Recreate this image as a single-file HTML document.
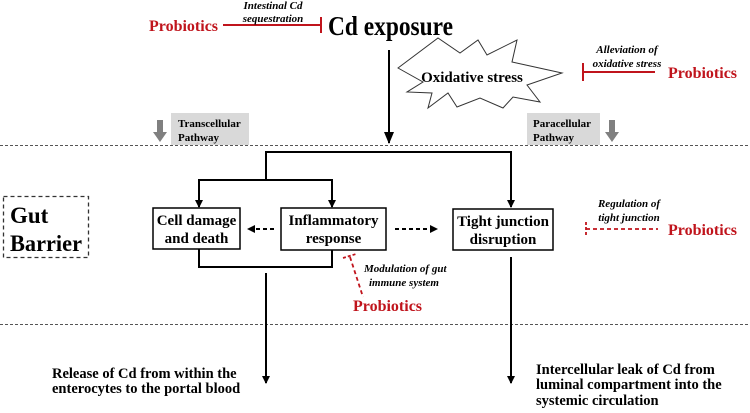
<!DOCTYPE html>
<html><head><meta charset="utf-8"><style>
html,body{margin:0;padding:0;background:#fff;width:750px;height:413px;overflow:hidden}
svg{display:block;font-family:"Liberation Serif",serif}
</style></head><body>
<svg width="750" height="413" viewBox="0 0 750 413" xmlns="http://www.w3.org/2000/svg">
<defs>
<marker id="ah" markerWidth="8" markerHeight="8" refX="7" refY="4" orient="auto" markerUnits="userSpaceOnUse"><path d="M0,0 L8,4 L0,8 Z" fill="#000"/></marker>
<marker id="ahb" markerWidth="12" markerHeight="10" refX="11" refY="5" orient="auto" markerUnits="userSpaceOnUse"><path d="M0,0 L12,5 L0,10 Z" fill="#000"/></marker>
</defs>
<!-- top -->
<text x="149" y="31" font-size="16" font-weight="bold" fill="#c0141c">Probiotics</text>
<line x1="223" y1="25" x2="321" y2="25" stroke="#c0141c" stroke-width="2"/>
<line x1="321" y1="17" x2="321" y2="33" stroke="#c0141c" stroke-width="2"/>
<text x="273" y="9" font-size="11" font-style="italic" font-weight="bold" text-anchor="middle">Intestinal Cd</text>
<text x="273" y="22" font-size="11" font-style="italic" font-weight="bold" text-anchor="middle">sequestration</text>
<text x="328" y="35" font-size="27" font-weight="bold" textLength="125" lengthAdjust="spacingAndGlyphs">Cd exposure</text>
<line x1="389" y1="50" x2="389" y2="143" stroke="#000" stroke-width="2" marker-end="url(#ahb)"/>
<polygon points="398,68 438,38 460,53 478,40 487,55 517,40 512,62 562,73 527,85 540,102 513,97 503,108 480,98 457,107 448,93 428,108 432,93 407,92 423,82" fill="#fff" stroke="#333" stroke-width="1"/>
<text x="472" y="82" font-size="15" font-weight="bold" text-anchor="middle">Oxidative stress</text>
<text x="627" y="53" font-size="11" font-style="italic" font-weight="bold" text-anchor="middle">Alleviation of</text>
<text x="627" y="67" font-size="11" font-style="italic" font-weight="bold" text-anchor="middle">oxidative stress</text>
<line x1="583" y1="72" x2="655" y2="72" stroke="#c0141c" stroke-width="2"/>
<line x1="583" y1="63" x2="583" y2="81" stroke="#c0141c" stroke-width="2"/>
<text x="668" y="78" font-size="16" font-weight="bold" fill="#c0141c">Probiotics</text>
<!-- pathways -->
<rect x="171" y="113" width="78" height="32" fill="#d9d9d9"/>
<text x="178" y="127" font-size="11" font-weight="bold">Transcellular</text>
<text x="178" y="141" font-size="11" font-weight="bold">Pathway</text>
<path d="M157,120 h6 v12 h4 l-7,10 l-7,-10 h4 z" fill="#808080"/>
<rect x="527" y="113" width="73" height="32" fill="#d9d9d9"/>
<text x="533" y="127" font-size="11" font-weight="bold">Paracellular</text>
<text x="533" y="141" font-size="11" font-weight="bold">Pathway</text>
<path d="M609,120 h6 v12 h4 l-7,10 l-7,-10 h4 z" fill="#808080"/>
<line x1="0" y1="145.5" x2="750" y2="145.5" stroke="#555" stroke-width="1" stroke-dasharray="3,2"/>
<line x1="0" y1="324.5" x2="750" y2="324.5" stroke="#555" stroke-width="1" stroke-dasharray="3,2"/>
<!-- gut barrier -->
<rect x="3.5" y="196.5" width="85" height="61" fill="none" stroke="#333" stroke-width="1.3" stroke-dasharray="4,3"/>
<text x="10" y="223" font-size="23" font-weight="bold">Gut</text>
<text x="10" y="251" font-size="23" font-weight="bold" textLength="72" lengthAdjust="spacingAndGlyphs">Barrier</text>
<!-- brackets -->
<polyline points="266,180 266,152 511,152 511,207" fill="none" stroke="#000" stroke-width="2" marker-end="url(#ah)"/>
<polyline points="199,207 199,180 332,180 332,207" fill="none" stroke="#000" stroke-width="2"/>
<line x1="199" y1="190" x2="199" y2="207" stroke="#000" stroke-width="2" marker-end="url(#ah)"/>
<line x1="332" y1="190" x2="332" y2="207" stroke="#000" stroke-width="2" marker-end="url(#ah)"/>
<!-- boxes -->
<rect x="153" y="208" width="87" height="41" fill="#fff" stroke="#000" stroke-width="1.5"/>
<text x="196.5" y="225" font-size="15" font-weight="bold" text-anchor="middle">Cell damage</text>
<text x="196.5" y="243" font-size="15" font-weight="bold" text-anchor="middle">and death</text>
<rect x="281" y="208" width="105" height="42" fill="#fff" stroke="#000" stroke-width="1.5"/>
<text x="333.5" y="225" font-size="15" font-weight="bold" text-anchor="middle">Inflammatory</text>
<text x="333.5" y="243" font-size="15" font-weight="bold" text-anchor="middle">response</text>
<rect x="453" y="209" width="100" height="41" fill="#fff" stroke="#000" stroke-width="1.5"/>
<text x="503" y="226" font-size="15" font-weight="bold" text-anchor="middle">Tight junction</text>
<text x="503" y="244" font-size="15" font-weight="bold" text-anchor="middle">disruption</text>
<line x1="274" y1="229" x2="248" y2="229" stroke="#000" stroke-width="2" stroke-dasharray="4,3" marker-end="url(#ah)"/>
<line x1="395" y1="229" x2="437" y2="229" stroke="#000" stroke-width="2" stroke-dasharray="4,3" marker-end="url(#ah)"/>
<!-- bottom bracket -->
<polyline points="199,249 199,267 332,267 332,250" fill="none" stroke="#000" stroke-width="2"/>
<line x1="266" y1="273" x2="266" y2="383" stroke="#000" stroke-width="2" marker-end="url(#ah)"/>
<line x1="511" y1="257" x2="511" y2="383" stroke="#000" stroke-width="2" marker-end="url(#ah)"/>
<!-- regulation -->
<text x="629" y="207" font-size="11" font-style="italic" font-weight="bold" text-anchor="middle">Regulation of</text>
<text x="629" y="221" font-size="11" font-style="italic" font-weight="bold" text-anchor="middle">tight junction</text>
<line x1="586" y1="229" x2="658" y2="229" stroke="#c0141c" stroke-width="1.8" stroke-dasharray="4,3"/>
<line x1="586" y1="222" x2="586" y2="237" stroke="#c0141c" stroke-width="1.8" stroke-dasharray="3,2"/>
<text x="668" y="235" font-size="16" font-weight="bold" fill="#c0141c">Probiotics</text>
<!-- modulation -->
<line x1="350" y1="257" x2="363" y2="297" stroke="#c0141c" stroke-width="1.8" stroke-dasharray="4,3"/>
<line x1="343" y1="258" x2="356" y2="254" stroke="#c0141c" stroke-width="1.8" stroke-dasharray="3,2"/>
<text x="364" y="272" font-size="11" font-style="italic" font-weight="bold">Modulation of gut</text>
<text x="369" y="286" font-size="11" font-style="italic" font-weight="bold">immune system</text>
<text x="353" y="311" font-size="16" font-weight="bold" fill="#c0141c">Probiotics</text>
<!-- bottom text -->
<text x="52" y="378" font-size="14.5" font-weight="bold">Release of Cd from within the</text>
<text x="52" y="393" font-size="14.5" font-weight="bold">enterocytes to the portal blood</text>
<text x="536" y="374" font-size="14.5" font-weight="bold">Intercellular leak of Cd from</text>
<text x="536" y="389" font-size="14.5" font-weight="bold">luminal compartment into the</text>
<text x="536" y="405" font-size="14.5" font-weight="bold">systemic circulation</text>
</svg>
</body></html>
